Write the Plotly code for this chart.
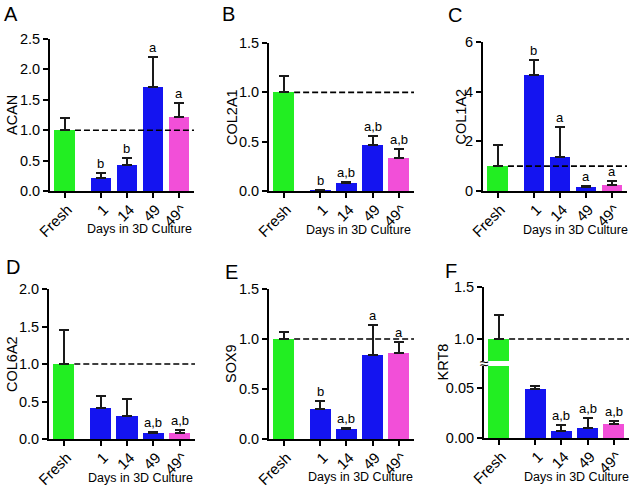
import plotly.graph_objects as go

W, H = 635, 488

categories = ["Fresh", "1", "14", "49", "49^"]
positions = [0, 1.4, 2.4, 3.4, 4.4]
bar_colors = ["#22EE22", "#1414F0", "#1414F0", "#1414F0", "#F24FD8"]

acan_mean = [1.00, 0.22, 0.43, 1.71, 1.21]
acan_err = [0.20, 0.07, 0.12, 0.49, 0.23]
acan_sig = ["", "b", "b", "a", "a"]

col2a1_mean = [1.00, 0.008, 0.085, 0.47, 0.335]
col2a1_err = [0.17, 0.0, 0.01, 0.09, 0.09]
col2a1_sig = ["", "b", "a,b", "a,b", "a,b"]

col1a2_mean = [1.00, 4.69, 1.35, 0.15, 0.24]
col1a2_err = [0.87, 0.58, 1.21, 0.06, 0.15]
col1a2_sig = ["", "b", "a", "a", "a"]

col6a2_mean = [1.00, 0.42, 0.31, 0.08, 0.08]
col6a2_err = [0.46, 0.16, 0.23, 0.02, 0.045]
col6a2_sig = ["", "", "", "a,b", "a,b"]

sox9_mean = [1.00, 0.30, 0.10, 0.845, 0.86]
sox9_err = [0.066, 0.08, 0.01, 0.295, 0.106]
sox9_sig = ["", "b", "a,b", "a", "a"]

krt8_mean = [1.00, 0.049, 0.0073, 0.0097, 0.0143]
krt8_err = [0.23, 0.003, 0.0054, 0.0106, 0.003]
krt8_sig = ["", "", "a,b", "a,b", "a,b"]

FONT = "Arial, Liberation Sans, sans-serif"

panels = [
    dict(letter="A", label="ACAN", mean=acan_mean, err=acan_err, sig=acan_sig,
         yr=[0, 2.5], tv=[0, 0.5, 1, 1.5, 2, 2.5], tt=["0.0", "0.5", "1.0", "1.5", "2.0", "2.5"],
         px=(50, 194), py=(39, 191), lpos=(11, 14), tpos=12, dpos=(139, 229)),
    dict(letter="B", label="COL2A1", mean=col2a1_mean, err=col2a1_err, sig=col2a1_sig,
         yr=[0, 1.5], tv=[0, 0.5, 1, 1.5], tt=["0.0", "0.5", "1.0", "1.5"],
         px=(269, 414), py=(43, 191), lpos=(228, 14), tpos=232, dpos=(359, 230)),
    dict(letter="C", label="COL1A2", mean=col1a2_mean, err=col1a2_err, sig=col1a2_sig,
         yr=[0, 6], tv=[0, 2, 4, 6], tt=["0", "2", "4", "6"],
         px=(483, 627), py=(42, 191), lpos=(455, 15), tpos=460, dpos=(575, 230)),
    dict(letter="D", label="COL6A2", mean=col6a2_mean, err=col6a2_err, sig=col6a2_sig,
         yr=[0, 2.0], tv=[0, 0.5, 1, 1.5, 2], tt=["0.0", "0.5", "1.0", "1.5", "2.0"],
         px=(49, 195), py=(289, 439), lpos=(13, 267), tpos=12, dpos=(140, 478)),
    dict(letter="E", label="SOX9", mean=sox9_mean, err=sox9_err, sig=sox9_sig,
         yr=[0, 1.5], tv=[0, 0.5, 1, 1.5], tt=["0.0", "0.5", "1.0", "1.5"],
         px=(269, 414), py=(289, 439), lpos=(231, 272), tpos=231, dpos=(360, 477)),
]

XR = [-0.56, 4.98]


def fx(px):
    return min(max(px / W, 0), 1)


def fy(py):
    return min(max(1 - py / H, 0), 1)


fig = go.Figure()
layout = dict(width=W, height=H, margin=dict(l=0, r=0, t=0, b=0, autoexpand=False),
              paper_bgcolor="white", plot_bgcolor="white", showlegend=False,
              font=dict(family=FONT, color="black"), bargap=0)
annotations = []
shapes = []


def xaxis_cfg(px, anchor):
    return dict(domain=[fx(px[0]), fx(px[1])], range=XR, anchor=anchor, showgrid=False, zeroline=False,
                showline=True, linecolor="black", linewidth=2, ticks="outside", ticklen=5,
                tickwidth=2, tickcolor="black", tickvals=positions, ticktext=categories,
                tickangle=-45, tickfont=dict(size=15, family=FONT), automargin=False,
                ticklabelstandoff=-3, ticklabelshift=3)


def yaxis_cfg(py, anchor, yr, tv, tt):
    return dict(domain=[fy(py[1]), fy(py[0])], range=yr, anchor=anchor, showgrid=False, zeroline=False,
                showline=True, linecolor="black", linewidth=2, ticks="outside", ticklen=5,
                tickwidth=2, tickcolor="black", tickvals=tv, ticktext=tt,
                tickfont=dict(size=14.5, family=FONT), automargin=False)


def err_cfg(arr):
    return dict(type="data", array=arr, arrayminus=[0] * len(arr), symmetric=False,
                color="#1a1a1a", thickness=2, width=5)


def paper_text(text, px, py, size, angle=0):
    annotations.append(dict(text=text, x=fx(px), y=fy(py), xref="paper", yref="paper",
                            xanchor="center", yanchor="middle", showarrow=False, textangle=angle,
                            font=dict(size=size, family=FONT)))


def add_common_text(letter, lpos, label, tpos, py_center, dpos):
    paper_text(letter, lpos[0], lpos[1], 20)
    paper_text(label, tpos, py_center, 14.5, -90)
    paper_text("Days in 3D Culture", dpos[0], dpos[1], 12.5)


def add_sig(xref, yref, means, errs, sigs):
    for xp, m, e, s in zip(positions, means, errs, sigs):
        if s:
            annotations.append(dict(text=s, x=xp, y=m + e, xref=xref, yref=yref, showarrow=False,
                                    xanchor="center", yanchor="bottom", yshift=0,
                                    font=dict(size=13, family=FONT)))


for i, p in enumerate(panels, start=1):
    xa = "x" if i == 1 else f"x{i}"
    ya = "y" if i == 1 else f"y{i}"
    fig.add_trace(go.Bar(x=positions, y=p["mean"], width=0.8, marker=dict(color=bar_colors, line=dict(width=0)),
                         error_y=err_cfg(p["err"]), xaxis=xa, yaxis=ya, hoverinfo="skip"))
    layout["xaxis" if i == 1 else f"xaxis{i}"] = xaxis_cfg(p["px"], ya)
    layout["yaxis" if i == 1 else f"yaxis{i}"] = yaxis_cfg(p["py"], xa, p["yr"], p["tv"], p["tt"])
    shapes.append(dict(type="line", xref=xa, yref=ya, x0=positions[0] + 0.4, x1=XR[1] + 0.1, y0=1, y1=1,
                       line=dict(color="black", width=1.6, dash="6px,3px"), layer="above"))
    add_sig(xa, ya, p["mean"], p["err"], p["sig"])
    add_common_text(p["letter"], p["lpos"], p["label"], p["tpos"], (p["py"][0] + p["py"][1]) / 2, p["dpos"])

# Panel F with broken y axis
fpx = (484, 629)
f_low = (366, 438)
f_up = (287, 361)
fig.add_trace(go.Bar(x=positions[:1], y=krt8_mean[:1], width=0.8, marker=dict(color=bar_colors[:1], line=dict(width=0)),
                     xaxis="x6", yaxis="y6", hoverinfo="skip"))
fig.add_trace(go.Bar(x=positions[1:], y=krt8_mean[1:], width=0.8, marker=dict(color=bar_colors[1:], line=dict(width=0)),
                     error_y=err_cfg(krt8_err[1:]), xaxis="x6", yaxis="y6", hoverinfo="skip"))
fig.add_trace(go.Bar(x=positions[:1], y=krt8_mean[:1], width=0.8, marker=dict(color=bar_colors[:1], line=dict(width=0)),
                     error_y=err_cfg(krt8_err[:1]), xaxis="x6", yaxis="y7", hoverinfo="skip"))
layout["xaxis6"] = xaxis_cfg(fpx, "y6")
layout["yaxis6"] = yaxis_cfg(f_low, "x6", [0, 0.072], [0, 0.05], ["0.00", "0.05"])
layout["yaxis7"] = yaxis_cfg(f_up, "x6", [0.788, 1.5], [1.0, 1.5], ["1.0", "1.5"])
shapes.append(dict(type="line", xref="x6", yref="y7", x0=positions[0] + 0.4, x1=XR[1] + 0.1, y0=1, y1=1,
                   line=dict(color="black", width=1.6, dash="6px,3px"), layer="above"))
add_sig("x6", "y6", krt8_mean, krt8_err, krt8_sig)
add_common_text("F", (451, 271), "KRT8", 442, (f_up[0] + f_low[1]) / 2, (576, 477))
paper_text("≈", fpx[0], 363.5, 16)

layout["annotations"] = annotations
layout["shapes"] = shapes
fig.update_layout(**layout)
fig.write_html("out.html", config={"displayModeBar": False, "staticPlot": True},
               post_script="document.body.style.margin='0';document.body.style.overflow='hidden';")
